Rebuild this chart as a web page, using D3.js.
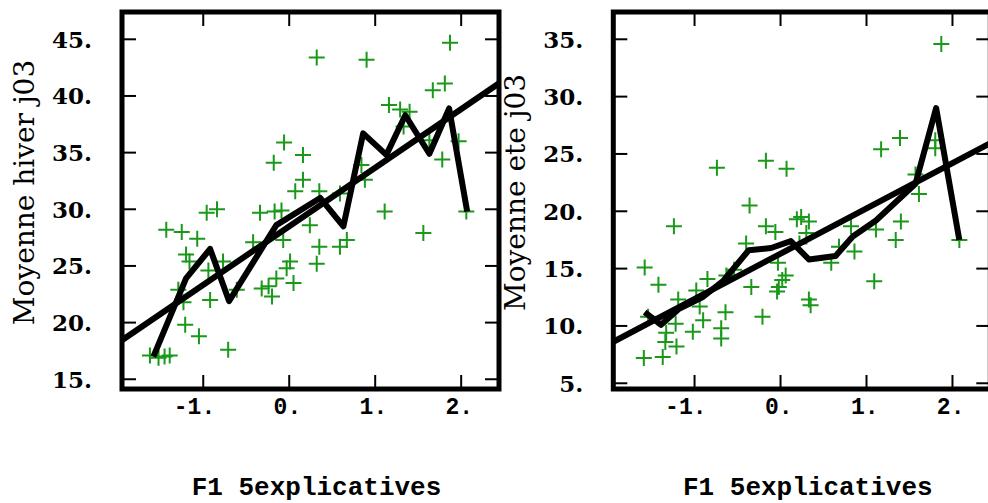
<!DOCTYPE html>
<html>
<head>
<meta charset="utf-8">
<script src="https://cdn.jsdelivr.net/npm/d3@7"></script>
<style>
  html, body { margin: 0; padding: 0; background: #fff; }
  svg { display: block; }
</style>
</head>
<body>
<svg id="chart" width="988" height="503"></svg>
<script>
// ---------- DATA ----------
const xTicks = [-1, 0, 1, 2];
const xTickLabels = ["-1.", "0.", "1.", "2."];

// Panel 1 : Moyenne hiver j03
const hiverTicks = [15, 20, 25, 30, 35, 40, 45];
const hiverTickLabels = ["15.", "20.", "25.", "30.", "35.", "40.", "45."];
const hiverPoints = [
  [0.32,43.4],[0.90,43.2],[1.87,44.7],[1.67,40.5],[1.81,41.1],[1.16,39.2],[1.29,38.8],
  [1.40,38.6],[1.33,37.3],[1.63,36.1],[1.97,36.0],[1.78,34.4],[-0.06,35.9],[0.16,34.8],
  [-0.18,34.1],[0.16,32.6],[0.07,31.6],[0.35,31.6],[0.84,33.9],[0.88,32.6],[2.06,29.8],
  [1.11,29.8],[1.56,27.9],[0.59,31.4],[0.24,28.6],[-0.07,27.3],[-0.42,27.1],[-0.34,29.7],
  [-0.17,29.8],[-0.09,29.9],[0.35,26.7],[0.59,26.7],[0.67,27.3],[0.32,25.2],[0.01,25.4],
  [-0.03,24.8],[0.05,23.5],[-0.15,23.9],[-0.24,23.2],[-0.32,23.0],[-0.20,22.3],[-0.61,22.9],
  [-0.77,25.4],[-0.94,24.6],[-1.20,26.0],[-1.16,25.4],[-1.43,28.2],[-1.25,28.0],[-1.07,27.4],
  [-0.96,29.7],[-0.84,30.0],[-1.29,22.9],[-1.23,21.8],[-0.92,22.0],[-1.21,19.8],[-1.05,18.8],
  [-0.71,17.6],[-1.62,17.1],[-1.52,16.9],[-1.45,17.0],[-1.39,17.1]
];
const hiverCurve = [
  [-1.58,17.0],[-1.20,23.9],[-0.92,26.5],[-0.70,21.9],[-0.15,28.6],[0.36,31.0],[0.63,28.5],
  [0.86,36.7],[1.13,34.8],[1.35,38.3],[1.63,34.9],[1.86,38.9],[2.07,29.8]
];
const hiverFit = { intercept: 28.5, slope: 5.17 };

// Panel 2 : Moyenne ete j03
const eteTicks = [5, 10, 15, 20, 25, 30, 35];
const eteTickLabels = ["5.", "10.", "15.", "20.", "25.", "30.", "35."];
const etePoints = [
  [1.87,34.6],[-0.74,23.8],[-0.17,24.4],[0.07,23.7],[1.17,25.4],[1.39,26.4],[1.80,26.2],
  [1.80,25.5],[1.57,23.2],[1.61,21.5],[2.08,17.5],[-0.36,20.5],[-1.24,18.7],[-1.58,15.1],
  [-1.42,13.6],[0.19,19.3],[0.24,19.5],[0.33,19.1],[-0.17,18.7],[-0.06,18.2],[0.30,18.1],
  [-0.40,17.2],[-0.03,15.5],[0.06,14.4],[0.02,14.0],[-0.02,13.4],[-0.04,13.0],[-0.34,13.4],
  [-0.63,14.4],[-0.85,14.1],[-0.98,13.1],[-0.94,11.7],[-0.90,10.5],[-1.19,12.3],[-1.22,10.2],
  [-1.33,9.4],[-1.21,8.2],[-1.34,8.6],[-1.37,7.3],[-1.59,7.2],[-1.54,10.8],[-1.02,9.5],
  [-0.69,9.8],[-0.69,8.9],[-0.64,11.2],[-0.21,10.8],[0.33,12.3],[0.35,11.8],[0.59,15.5],
  [0.68,16.9],[0.86,16.5],[0.82,18.7],[1.11,18.4],[1.34,17.5],[1.40,19.1],[1.09,13.9],
  [0.22,17.2],[-0.54,14.9]
];
const eteCurve = [
  [-1.58,11.2],[-1.39,10.1],[-1.18,11.5],[-0.91,12.5],[-0.67,13.9],[-0.37,16.6],[-0.11,16.8],
  [0.12,17.4],[0.33,15.8],[0.64,16.1],[0.84,17.8],[1.11,19.2],[1.57,22.4],[1.81,29.0],[2.08,17.5]
];
const eteFit = { intercept: 16.3, slope: 3.95 };

const xTitle = "F1 5explicatives";

// ---------- DRAW ----------
const svg = d3.select("#chart");
const green = "#1a981a";

function panel(opts) {
  const { left, top, width, height, xDomain, yDomain, yTicks, yTickLabels,
          points, curve, fit, yTitle, id } = opts;
  const x = d3.scaleLinear().domain(xDomain).range([left, left + width]);
  const y = d3.scaleLinear().domain(yDomain).range([top + height, top]);
  const g = svg.append("g");

  g.append("clipPath").attr("id", "clip" + id)
    .append("rect").attr("x", left).attr("y", top).attr("width", width).attr("height", height);

  const plot = g.append("g").attr("clip-path", `url(#clip${id})`);

  // points (crosses)
  const s = 8;
  plot.append("g").selectAll("path").data(points).join("path")
    .attr("d", d => `M${x(d[0]) - s},${y(d[1])}H${x(d[0]) + s}M${x(d[0])},${y(d[1]) - s}V${y(d[1]) + s}`)
    .attr("stroke", green).attr("stroke-width", 2).attr("fill", "none");

  // regression line
  const xd = x.domain();
  plot.append("line")
    .attr("x1", x(xd[0])).attr("y1", y(fit.intercept + fit.slope * xd[0]))
    .attr("x2", x(xd[1])).attr("y2", y(fit.intercept + fit.slope * xd[1]))
    .attr("stroke", "#000").attr("stroke-width", 6);

  // broken curve
  plot.append("path").datum(curve)
    .attr("d", d3.line().x(d => x(d[0])).y(d => y(d[1])))
    .attr("fill", "none").attr("stroke", "#000").attr("stroke-width", 6)
    .attr("stroke-linejoin", "round");

  // ticks (inward, all four sides)
  const tl = 14;
  const axes = g.append("g").attr("stroke", "#000").attr("stroke-width", 2);
  xTicks.forEach(t => {
    axes.append("line").attr("x1", x(t)).attr("x2", x(t)).attr("y1", top + height).attr("y2", top + height - tl);
    axes.append("line").attr("x1", x(t)).attr("x2", x(t)).attr("y1", top).attr("y2", top + tl);
  });
  yTicks.forEach(t => {
    axes.append("line").attr("x1", left).attr("x2", left + tl).attr("y1", y(t)).attr("y2", y(t));
    axes.append("line").attr("x1", left + width).attr("x2", left + width - tl).attr("y1", y(t)).attr("y2", y(t));
  });

  // frame
  g.append("rect").attr("x", left).attr("y", top).attr("width", width).attr("height", height)
    .attr("fill", "none").attr("stroke", "#000").attr("stroke-width", 5);

  // y tick labels
  g.append("g").selectAll("text").data(yTicks).join("text")
    .attr("x", left - 30).attr("y", d => y(d)).attr("dy", "0.36em")
    .attr("text-anchor", "end")
    .attr("font-family", "DejaVu Serif").attr("font-weight", "bold").attr("font-size", 23)
    .text((d, i) => yTickLabels[i]);

  // x tick labels
  g.append("g").selectAll("text").data(xTicks).join("text")
    .attr("x", d => x(d) + 12).attr("y", top + height + 25)
    .attr("text-anchor", "end")
    .attr("font-family", "Liberation Mono").attr("font-weight", "bold").attr("font-size", 23)
    .text((d, i) => xTickLabels[i]);

  // x title
  g.append("text")
    .attr("x", left + width / 2 + 6).attr("y", 495)
    .attr("text-anchor", "middle")
    .attr("font-family", "Liberation Mono").attr("font-weight", "bold").attr("font-size", 26)
    .text(xTitle);

  // y title
  g.append("text")
    .attr("transform", `translate(${left - 88},${top + height / 2 - 8}) rotate(-90)`)
    .attr("text-anchor", "middle")
    .attr("font-family", "DejaVu Serif").attr("font-size", 28)
    .text(yTitle);
}

panel({ id: 1, left: 122, top: 12, width: 377, height: 377,
  xDomain: [-1.945, 2.44], yDomain: [14.14, 47.41],
  yTicks: hiverTicks, yTickLabels: hiverTickLabels,
  points: hiverPoints, curve: hiverCurve, fit: hiverFit, yTitle: "Moyenne hiver j03" });

panel({ id: 2, left: 613.3, top: 12, width: 377, height: 377,
  xDomain: [-1.945, 2.44], yDomain: [4.5, 37.38],
  yTicks: eteTicks, yTickLabels: eteTickLabels,
  points: etePoints, curve: eteCurve, fit: eteFit, yTitle: "Moyenne ete j03" });
</script>
</body>
</html>
